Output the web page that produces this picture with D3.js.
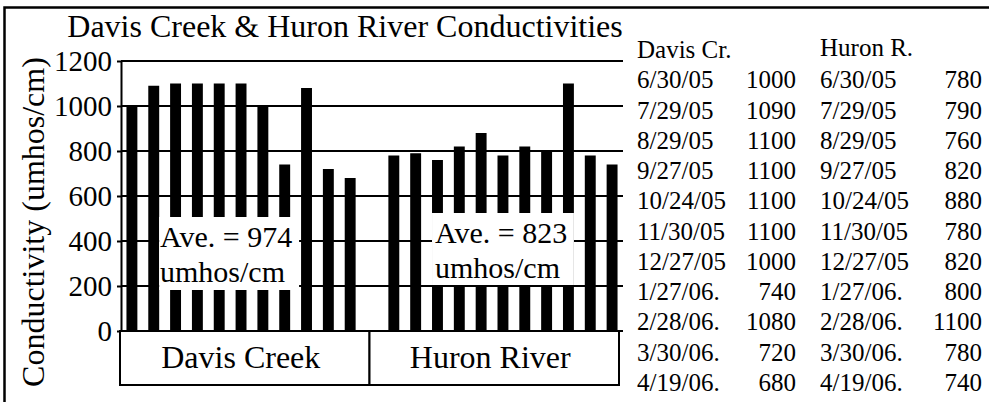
<!DOCTYPE html>
<html>
<head>
<meta charset="utf-8">
<script src="https://cdn.jsdelivr.net/npm/d3@7"></script>
<style>
  body { margin: 0; background: #fff; }
  svg { display: block; font-family: "Liberation Serif", "Times New Roman", serif; }
</style>
</head>
<body>
<svg id="canvas" width="989" height="402"></svg>
<script>
let dates = ["6/30/05", "7/29/05", "8/29/05", "9/27/05", "10/24/05", "11/30/05",
             "12/27/05", "1/27/06.", "2/28/06.", "3/30/06.", "4/19/06."];
let davisValues = [1000, 1090, 1100, 1100, 1100, 1100, 1000, 740, 1080, 720, 680];
let huronValues = [780, 790, 760, 820, 880, 780, 820, 800, 1100, 780, 740];
let sites = ["Davis Creek", "Huron River"];
let siteShort = ["Davis Cr.", "Huron R."];
let averages = [974, 823];
let yTicks = [0, 200, 400, 600, 800, 1000, 1200];

let canvas = d3.select('#canvas');

// one slot per sample, and an empty slot between the two sites
let slots = [];
dates.forEach((d) => slots.push('D ' + d));
slots.push('gap');
dates.forEach((d) => slots.push('H ' + d));

let bars = [];
dates.forEach((d, i) => bars.push({slot: 'D ' + d, value: davisValues[i]}));
dates.forEach((d, i) => bars.push({slot: 'H ' + d, value: huronValues[i]}));

let x = d3.scaleBand().domain(slots).range([121, 623]).paddingInner(0.5).paddingOuter(0.25);
let y = d3.scaleLinear().domain([0, 1200]).range([331, 61]);
let xSite = d3.scaleBand().domain(sites).range([120, 619]);

// outer frame (cut off at right and bottom)
canvas.append('rect')
    .attr('x', 4.5).attr('y', 7.5)
    .attr('width', 1100).attr('height', 500)
    .attr('fill', 'none').attr('stroke', '#000').attr('stroke-width', 2.5);

canvas.append('text')
    .attr('x', 345).attr('y', 37)
    .attr('text-anchor', 'middle')
    .style('font-size', '32px')
    .text('Davis Creek & Huron River Conductivities');

canvas.append('text')
    .attr('transform', 'translate(44,222) rotate(-90)')
    .attr('text-anchor', 'middle')
    .style('font-size', '32px')
    .text('Conductivity (umhos/cm)');

// gridlines
canvas.append('g')
    .selectAll('line')
    .data(yTicks)
    .enter()
    .append('line')
    .attr('x1', 121).attr('x2', 623)
    .attr('y1', (d) => y(d)).attr('y2', (d) => y(d))
    .attr('stroke', '#000').attr('stroke-width', 2);

let yAxis = canvas.append('g')
    .attr('transform', 'translate(121,0)')
    .call(d3.axisLeft(y).tickValues(yTicks).tickFormat(d3.format('d'))
        .tickSize(4).tickSizeOuter(0).tickPadding(5));
yAxis.selectAll('path, line').attr('stroke', '#000').attr('stroke-width', 2);
yAxis.selectAll('text')
    .attr('fill', '#000')
    .style('font-family', '"Liberation Serif", "Times New Roman", serif')
    .style('font-size', '29px');

canvas.append('g')
    .selectAll('rect')
    .data(bars)
    .enter()
    .append('rect')
    .attr('x', (d) => x(d.slot))
    .attr('y', (d) => y(d.value))
    .attr('width', x.bandwidth())
    .attr('height', (d) => y(0) - y(d.value))
    .attr('fill', '#000');

// average boxes
let bw = x.bandwidth();
let aveBoxes = [
    {x0: x('D ' + dates[1]) + bw, x1: x('D ' + dates[8]) - 2, y0: 217, y1: 290, tx: 160, ty: 247},
    {x0: x('H ' + dates[2]), x1: x('H ' + dates[8]) + bw, y0: 213, y1: 285, tx: 435, ty: 243}
];
aveBoxes.forEach((b, i) => {
    canvas.append('rect')
        .attr('x', b.x0).attr('y', b.y0)
        .attr('width', b.x1 - b.x0).attr('height', b.y1 - b.y0)
        .attr('fill', '#fff');
    let t = canvas.append('text')
        .attr('x', b.tx).attr('y', b.ty)
        .style('font-size', '30px');
    t.append('tspan').attr('x', b.tx).text('Ave. = ' + averages[i]);
    t.append('tspan').attr('x', b.tx).attr('dy', 35).text('umhos/cm');
});

// category boxes under the bars
canvas.append('g')
    .selectAll('rect')
    .data(sites)
    .enter()
    .append('rect')
    .attr('x', (d) => xSite(d)).attr('y', 331)
    .attr('width', xSite.bandwidth()).attr('height', 54)
    .attr('fill', '#fff').attr('stroke', '#000').attr('stroke-width', 2);

canvas.append('g')
    .selectAll('text')
    .data(sites)
    .enter()
    .append('text')
    .attr('x', (d) => xSite(d) + xSite.bandwidth() / 2 - 4)
    .attr('y', 368)
    .attr('text-anchor', 'middle')
    .style('font-size', '32px')
    .text((d) => d);

// data listing to the right
let rowY = (i) => 58 + 30.27 * (i + 1);
let cols = [
    {name: siteShort[0], values: davisValues, dateX: 637, valX: 796, headY: 58},
    {name: siteShort[1], values: huronValues, dateX: 820, valX: 982, headY: 56}
];
cols.forEach((c) => {
    let g = canvas.append('g').style('font-size', '25px');
    g.append('text').attr('x', c.dateX).attr('y', c.headY).text(c.name);
    g.selectAll('.date')
        .data(dates)
        .enter()
        .append('text')
        .attr('class', 'date')
        .attr('x', c.dateX)
        .attr('y', (d, i) => rowY(i))
        .text((d) => d);
    g.selectAll('.val')
        .data(c.values)
        .enter()
        .append('text')
        .attr('class', 'val')
        .attr('x', c.valX)
        .attr('y', (d, i) => rowY(i))
        .attr('text-anchor', 'end')
        .text((d) => d);
});
</script>
</body>
</html>
